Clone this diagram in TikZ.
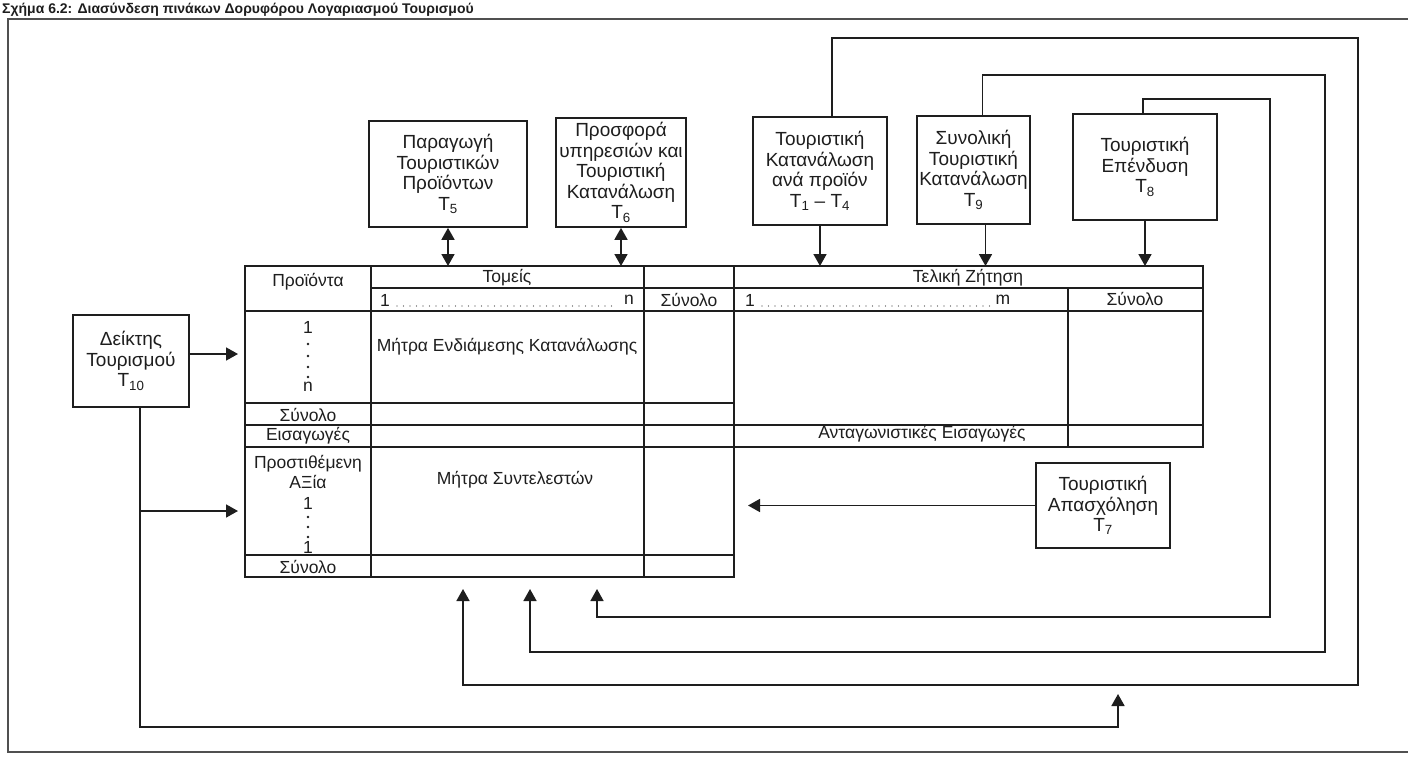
\documentclass[tikz,border=0pt]{standalone}
\usepackage{fontspec}
\setmainfont{Liberation Sans}
\usetikzlibrary{arrows.meta, calc}

\definecolor{inkblack}{RGB}{30,30,30}
\definecolor{inkgray}{RGB}{60,60,60}
\definecolor{framegray}{RGB}{80,80,80}

\tikzset{
  box/.style={draw=inkblack, line width=1.7pt, align=center, inner sep=0pt,
    font=\fontsize{19}{20.5}\selectfont, text=inkblack},
  lbl/.style={font=\fontsize{17.5}{20.5}\selectfont, inner sep=0pt, text=inkblack, align=center},
  grid/.style={draw=inkblack, line width=1.7pt},
  arr/.style={draw=inkblack, line width=1.7pt, -{Triangle[length=12pt, width=13pt]}},
  dblarr/.style={draw=inkblack, line width=1.7pt, {Triangle[length=12pt, width=13pt]}-{Triangle[length=12pt, width=13pt]}},
  leader/.style={draw=inkgray, line width=1.1pt, dash pattern=on 0pt off 6.5pt, line cap=round},
}

\begin{document}
\begin{tikzpicture}[x=1pt, y=-1pt]
\useasboundingbox (0,0) rectangle (1408,763);
\fill[white] (0,0) rectangle (1408,763);

% caption above the frame
\node[anchor=base west, inner sep=0pt, text=inkblack, font=\fontsize{14}{16}\selectfont\bfseries]
  (caption) at (2,13) {Σχήμα 6.2: Διασύνδεση πινάκων Δορυφόρου Λογαριασμού Τουρισμού};

% outer frame (open on the right)
\draw[framegray, line width=1.8pt] (1408,19) -- (8,19) -- (8,752) -- (1408,752);

% table corners
\coordinate (tbltop) at (245,266);

% table grid
\draw[grid] (245,266) rectangle (1203,447);
\draw[grid] (245,447) rectangle (734,577);
\draw[grid] (371,266) -- (371,577);
\draw[grid] (644,266) -- (644,577);
\draw[grid] (734,266) -- (734,447);
\draw[grid] (1068,288) -- (1068,447);
\draw[grid] (371,288) -- (1203,288);
\draw[grid] (245,311) -- (1203,311);
\draw[grid] (245,403) -- (734,403);
\draw[grid] (245,425) -- (1203,425);
\draw[grid] (245,555) -- (734,555);

% table header
\node[lbl] (prod) at (308,282) {Προϊόντα};
\node[lbl] (sect) at (507,278) {Τομείς};
\node[lbl] (fin) at (968,278) {Τελική Ζήτηση};
\node[lbl] (sect-1) at (385,300) {1};
\node[lbl] (sect-n) at (629,300) {n};
\draw[leader] (397,306) -- (618,306);
\node[lbl] (sect-sum) at (689,300) {Σύνολο};
\node[lbl] (fin-1) at (750,300) {1};
\node[lbl] (fin-m) at (1003,300) {m};
\draw[leader] (762,306) -- (991,306);
\node[lbl] (fin-sum) at (1135,299) {Σύνολο};

% table body
\node[lbl] (prod-1) at (308,327) {1};
\foreach \y in {344,356,367,377}
  \fill[inkblack] (308,\y) circle (1.4);
\node[lbl] (prod-n) at (308,387) {n};
\node[lbl] (inter) at (507,347) {Μήτρα Ενδιάμεσης Κατανάλωσης};
\node[lbl] (prod-sum) at (308,415) {Σύνολο};
\node[lbl] (imp) at (308,436) {Εισαγωγές};
\node[lbl] (comp-imp) at (922,434) {Ανταγωνιστικές Εισαγωγές};
\node[lbl] (va) at (308,472) {Προστιθέμενη\\ΑΞία};
\node[lbl] (va-1) at (308,503) {1};
\foreach \y in {517,527,537}
  \fill[inkblack] (308,\y) circle (1.4);
\node[lbl] (va-k) at (308,547) {1};
\node[lbl] (coef) at (515,480) {Μήτρα Συντελεστών};
\node[lbl] (va-sum) at (308,567) {Σύνολο};

% boxes around the table
\node[box, minimum width=158, minimum height=106] (t5) at (448,174)
  {Παραγωγή\\Τουριστικών\\Προϊόντων\\T\textsubscript{5}};
\node[box, minimum width=130, minimum height=109] (t6) at (621,172.5)
  {Προσφορά\\υπηρεσιών και\\Τουριστική\\Κατανάλωση\\T\textsubscript{6}};
\node[box, minimum width=134, minimum height=108] (t14) at (820,171)
  {Τουριστική\\Κατανάλωση\\ανά προϊόν\\T\textsubscript{1} – T\textsubscript{4}};
\node[box, minimum width=113, minimum height=108] (t9) at (973.5,170)
  {Συνολική\\Τουριστική\\Κατανάλωση\\T\textsubscript{9}};
\node[box, minimum width=144, minimum height=106] (t8) at (1145,167)
  {Τουριστική\\Επένδυση\\T\textsubscript{8}};
\node[box, minimum width=134, minimum height=85] (t7) at (1103,505.5)
  {Τουριστική\\Απασχόληση\\T\textsubscript{7}};
\node[box, minimum width=116, minimum height=92] (t10) at (131,361)
  {Δείκτης\\Τουρισμού\\T\textsubscript{10}};

% arrow ends
\coordinate (va1) at (463,589);
\coordinate (va2) at (530,589);
\coordinate (va3) at (597,589);
\coordinate (emp-in) at (748,505.5);
\coordinate (idx-in1) at (238,354);
\coordinate (idx-in2) at (238,511);
\coordinate (idx-foot) at (140,727);
\coordinate (idx-up) at (1118,694);

% production / supply
\draw[dblarr] (t5.south) -- (t5.south |- tbltop);
\draw[dblarr] (t6.south) -- (t6.south |- tbltop);

% final demand inputs
\draw[arr] (t14.south) -- (t14.south |- tbltop);
\draw[arr] ([xshift=12]t9.south) -- ([xshift=12]t9.south |- tbltop);
\draw[arr] (t8.south) -- (t8.south |- tbltop);

% loops back to the bottom of the table
\draw[arr] ([xshift=12]t14.north) |- (1358,38) -- (1358,685) -| (va1);
\draw[arr] ([xshift=9]t9.north) |- (1325,75) -- (1325,652) -| (va2);
\draw[arr] ([xshift=-2]t8.north) |- (1270,99) -- (1270,617) -| (va3);

% employment
\draw[arr] (t7.west) -- (emp-in);

% tourism indicator
\draw[arr] (t10.east |- idx-in1) -- (idx-in1);
\draw[arr] (t10.south -| idx-foot) -- (idx-foot) -| (idx-up);
\draw[arr] (idx-foot |- idx-in2) -- (idx-in2);
\end{tikzpicture}
\end{document}
